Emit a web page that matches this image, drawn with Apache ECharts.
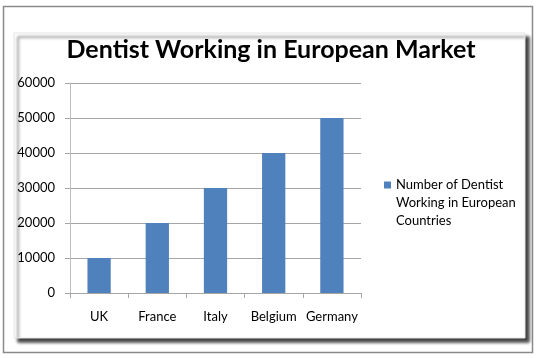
<!DOCTYPE html>
<html><head><meta charset="utf-8">
<script src="https://cdn.jsdelivr.net/npm/echarts@6/dist/echarts.min.js"></script>
<style>html,body{margin:0;padding:0;background:#fff}#c{width:540px;height:358px}</style>
</head><body><div id="c"></div>
<script>
const titleText = 'Dentist Working in European Market';
const categories = ['UK', 'France', 'Italy', 'Belgium', 'Germany'];
const seriesName = 'Number of Dentist\nWorking in European\nCountries';
const values = [10000, 20000, 30000, 40000, 50000];
const yTicks = [0, 10000, 20000, 30000, 40000, 50000, 60000];

const font = 'Lato, "Open Sans", sans-serif';
const chart = echarts.init(document.getElementById('c'), null, {renderer: 'canvas'});
chart.setOption({
  animation: false,
  backgroundColor: '#fff',
  graphic: [
    {type: 'rect', z: -10, shape: {x: 3.5, y: 6.5, width: 529, height: 346}, style: {fill: '#fff', stroke: '#8a8a8a', lineWidth: 1.5}},
    {type: 'rect', z: -9, shape: {x: 14, y: 33, width: 511, height: 305}, style: {fill: '#fff', stroke: '#e4e4e4', lineWidth: 1, shadowBlur: 3, shadowOffsetX: 4, shadowOffsetY: 4, shadowColor: 'rgba(0,0,0,0.75)'}}
  ],
  title: {
    text: titleText, left: 266, textAlign: 'center', top: 32,
    textStyle: {fontFamily: font, fontSize: 25, fontWeight: 'bold', color: '#000'}
  },
  legend: {
    orient: 'vertical', left: 384, top: 140, padding: 0,
    itemWidth: 7, itemHeight: 7, icon: 'rect',
    data: [seriesName],
    formatter: function (n) { return '\n\n' + n; },
    textStyle: {fontFamily: font, fontSize: 13, color: '#000', lineHeight: 18}
  },
  grid: {left: 70, right: 179, top: 83, bottom: 65, containLabel: false},
  xAxis: {
    type: 'category', data: categories,
    axisLine: {lineStyle: {color: '#a6a6a6'}},
    axisTick: {show: true, length: 5, lineStyle: {color: '#a6a6a6'}},
    axisLabel: {fontFamily: font, fontSize: 13, color: '#000', margin: 17, interval: 0}
  },
  yAxis: {
    type: 'value', min: yTicks[0], max: yTicks[yTicks.length - 1], interval: 10000,
    axisLine: {show: true, lineStyle: {color: '#bdbdbd'}},
    axisTick: {show: true, length: 5, lineStyle: {color: '#a6a6a6'}},
    splitLine: {lineStyle: {color: '#a6a6a6'}},
    axisLabel: {fontFamily: font, fontSize: 13, color: '#000', margin: 15, formatter: function (v) { return String(v); }}
  },
  series: [{
    name: seriesName, type: 'bar', data: values, barWidth: '40%',
    itemStyle: {color: '#4f81bd'}
  }]
});
</script></body></html>
